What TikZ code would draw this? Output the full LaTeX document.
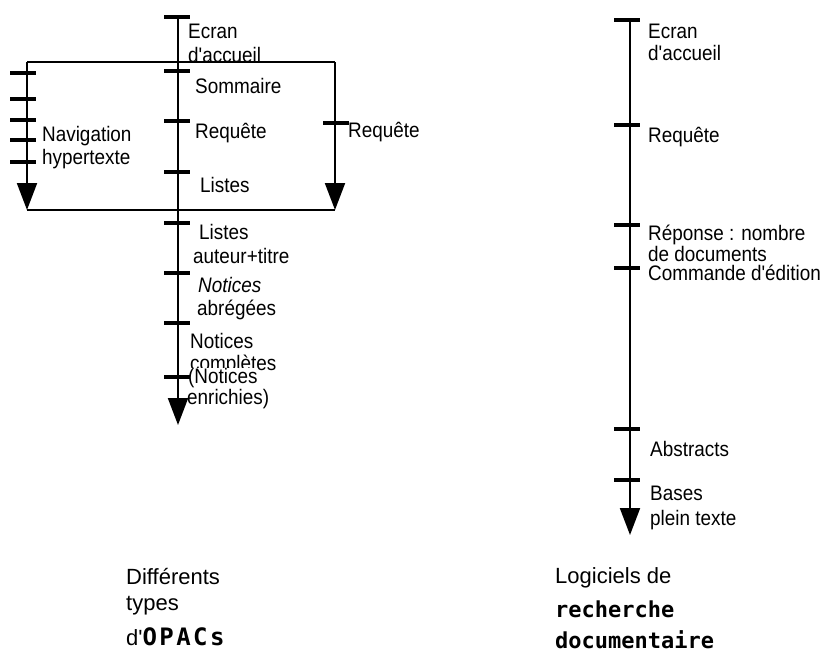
\documentclass[tikz,border=0pt]{standalone}
\usepackage{fontspec}
\usetikzlibrary{arrows.meta}
\setmainfont{Liberation Sans}
\newfontfamily\lblfont{Liberation Sans}[FakeStretch=0.9]
\newfontfamily\capfont{Liberation Sans}
\newfontfamily\monofont{DejaVu Sans Mono}
\newfontfamily\monowide{DejaVu Sans Mono}[LetterSpace=10]

\begin{document}
\begin{tikzpicture}[x=1pt,y=-1pt,
  axis/.style={line width=2pt},
  axisarrow/.style={line width=2pt,-{Triangle[width=20pt,length=27pt]}},
  tickmark/.style={draw=none,fill=black,minimum width=26pt,minimum height=4pt,inner sep=0pt,rectangle},
  lab/.style={anchor=base west,inner sep=0pt,font=\lblfont\fontsize{21}{23}\selectfont},
  caption/.style={anchor=base west,inner sep=0pt,font=\capfont\fontsize{22}{26}\selectfont},
  boldmono/.style={anchor=base west,inner sep=0pt,font=\monofont\bfseries\fontsize{22}{26}\selectfont}]
\useasboundingbox (0,0) rectangle (831,653);

% ---------- OPAC timeline: labels ----------
\node[lab] (ecranA) at (188,38) {Ecran};
\node[lab] (accueilA) at (188,62) {d'accueil};
\node[lab] (sommaire) at (195,93) {Sommaire};
\node[lab] (requeteA) at (195,138) {Requête};
\node[lab] (listesA) at (200,192) {Listes};
\node[lab] (navig) at (42,141) {Navigation};
\node[lab] (hyper) at (42,164) {hypertexte};
\node[lab] (requeteB) at (348,137) {Requête};
\node[lab] (listesB) at (199,239) {Listes};
\node[lab] (auteur) at (193,263) {auteur+titre};
\node[lab,font=\lblfont\itshape\fontsize{21}{23}\selectfont] (noticesA) at (198,292) {Notices};
\node[lab] (abregees) at (197,315) {abrégées};
\node[lab] (noticesB) at (190,348) {Notices};
\node[lab] (completes) at (190,370) {complètes};
\node[lab,fill=white] (noticesC) at (188,383) {(Notices};
\node[lab] (enrichies) at (187,404) {enrichies)};

% ---------- OPAC timeline: frame and axes ----------
\coordinate (fTL) at (27,62);
\coordinate (fTR) at (335,62);
\coordinate (fBL) at (27,210);
\coordinate (fBR) at (335,210);
\draw[axis] (fTL) -- (fTR);
\draw[axis] (fBL) -- (fBR);
\draw[axisarrow] (fTL) -- (fBL);
\draw[axisarrow] (fTR) -- (fBR);

\coordinate (mTop) at (178,17);
\coordinate (mEnd) at (178,425);
\draw[axisarrow] (mTop) -- (mEnd);

% ticks on the main OPAC axis
\foreach \y [count=\i] in {17,71,121,172,223,273,323,377}
  \node[tickmark] (mt\i) at (177,\y) {};
% ticks on the hypertext navigation branch
\foreach \y [count=\i] in {73,99,120,140,162}
  \node[tickmark] (nt\i) at (23,\y) {};
% tick on the query branch
\node[tickmark] (rt1) at (336,123) {};

% ---------- documentary retrieval software timeline ----------
\node[lab] (ecranC) at (648,38) {Ecran};
\node[lab] (accueilC) at (648,60) {d'accueil};
\node[lab] (requeteC) at (648,142) {Requête};
\node[lab] (reponse) at (648,240) {Réponse : nombre};
\node[lab] (dedocs) at (648,261) {de documents};
\node[lab] (commande) at (648,280) {Commande d'édition};
\node[lab] (abstracts) at (650,456) {Abstracts};
\node[lab] (bases) at (650,500) {Bases};
\node[lab] (plein) at (650,525) {plein texte};

\coordinate (dTop) at (630,20);
\coordinate (dEnd) at (630,535);
\draw[axisarrow] (dTop) -- (dEnd);
\foreach \y [count=\i] in {20,125,225,268,429,480}
  \node[tickmark] (dt\i) at (627,\y) {};

% ---------- captions ----------
\node[caption] (capA1) at (126,584) {Différents};
\node[caption] (capA2) at (126,610) {types};
\node[caption] (capA3) at (126,645) {d'{\monowide\bfseries\fontsize{24}{28}\selectfont OPACs}};
\node[caption] (capB1) at (555,583) {Logiciels de};
\node[boldmono] (capB2) at (555,617) {recherche};
\node[boldmono] (capB3) at (555,648) {documentaire};
\end{tikzpicture}
\end{document}
